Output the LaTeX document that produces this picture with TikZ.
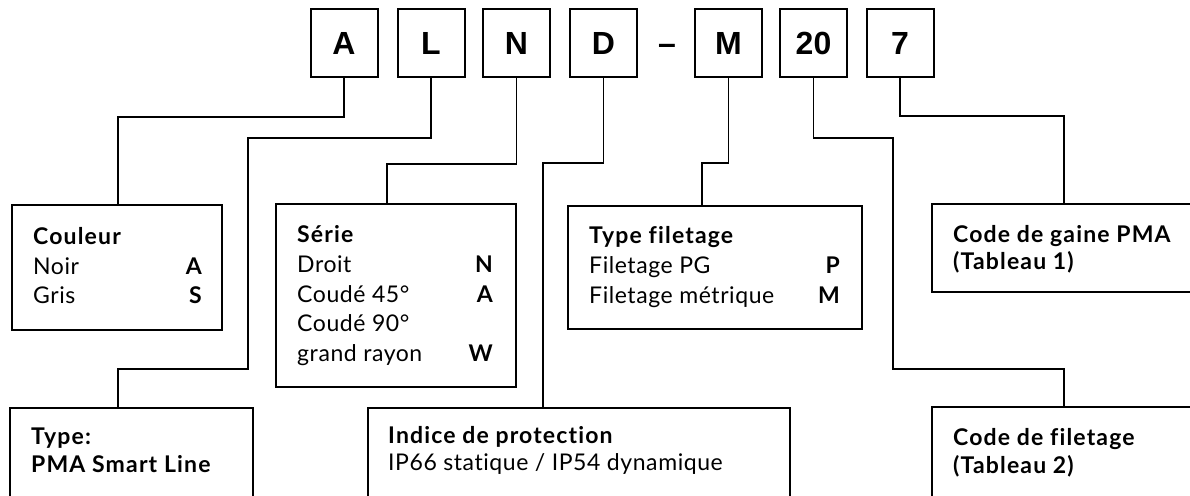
\documentclass[tikz,border=0pt]{standalone}
\usepackage{fontspec}
\setmainfont{Lato}[LetterSpace=2.5, Ligatures=NoCommon, BoldFeatures={LetterSpace=5}]
\newfontfamily\keyfont{Liberation Sans}
\begin{document}
\begin{tikzpicture}[x=1pt,y=-1pt,
  keybox/.style={draw, line width=2pt, minimum width=67pt, minimum height=68pt, inner sep=0pt, outer sep=0pt, font=\keyfont\bfseries\fontsize{32}{36}\selectfont},
  infobox/.style={draw, line width=1.3pt, inner sep=0pt, outer sep=0pt},
  conn/.style={line width=1.1pt},
  txt/.style={anchor=base west, inner sep=0pt, font=\fontsize{23}{27}\selectfont},
  ttl/.style={anchor=base west, inner sep=0pt, font=\bfseries\fontsize{23}{27}\selectfont},
  codel/.style={anchor=base east, inner sep=0pt, font=\bfseries\fontsize{23}{27}\selectfont}]
\useasboundingbox (0,0) rectangle (1190,495);
\clip (0,0) rectangle (1190,495);
\fill[white] (0,0) rectangle (1190,495);

% key boxes
\node[keybox] (kA) at (344,43) {A};
\node[keybox] (kL) at (431,43) {L};
\node[keybox] (kN) at (516.5,43) {N};
\node[keybox] (kD) at (603.5,43) {D};
\node[anchor=base, inner sep=0pt, font=\keyfont\bfseries\fontsize{32}{36}\selectfont] (dash) at (667,54.5) {–};
\node[keybox] (kM) at (728.5,43) {M};
\node[keybox] (k20) at (813.5,43) {20};
\node[keybox] (k7) at (900,43) {7};

% info boxes
\node[infobox, minimum width=210pt, minimum height=125pt] (bCouleur) at (117,267.5) {};
\node[infobox, minimum width=240pt, minimum height=183pt] (bSerie) at (396,295.5) {};
\node[infobox, minimum width=294pt, minimum height=123pt] (bFil) at (715,267.5) {};
\node[infobox, minimum width=268pt, minimum height=88pt] (bGaine) at (1066,248) {};
\node[infobox, minimum width=243pt, minimum height=102pt] (bType) at (131.5,459) {};
\node[infobox, minimum width=422pt, minimum height=102pt] (bIndice) at (579,459) {};
\node[infobox, minimum width=268pt, minimum height=103pt] (bCodeFil) at (1066,458.5) {};

% connectors
\draw[conn] (kA.south) -- ++(0,40) -| ([xshift=106pt]bCouleur.north west);
\draw[conn] (kL.south) -- ++(0,61) -| (248,369) -| ([xshift=108pt]bType.north west);
\draw[conn] (kN.south) -- ++(0,87) -| ([xshift=111pt]bSerie.north west);
\draw[conn] (kD.south) -- ++(0,86) -| ([xshift=175pt]bIndice.north west);
\draw[conn] (kM.south) -- ++(0,86) -| ([xshift=134pt]bFil.north west);
\draw[conn] (k20.south) -- ++(0,61) -| (893,369) -| ([xshift=132pt]bCodeFil.north west);
\draw[conn] (k7.south) -- ++(0,39) -| ([xshift=132pt]bGaine.north west);

% Couleur
\node[ttl] (tC0) at ([shift={(21,39)}]bCouleur.north west) {Couleur};
\node[txt] (tC1) at ([shift={(21,69)}]bCouleur.north west) {Noir};
\node[txt] (tC2) at ([shift={(21,98)}]bCouleur.north west) {Gris};
\node[codel] (cC1) at ([shift={(190,69)}]bCouleur.north west) {A};
\node[codel] (cC2) at ([shift={(190,98)}]bCouleur.north west) {S};

% Serie
\node[ttl] (tS0) at ([shift={(21,38)}]bSerie.north west) {Série};
\node[txt] (tS1) at ([shift={(21,68)}]bSerie.north west) {Droit};
\node[txt] (tS2) at ([shift={(21,98)}]bSerie.north west) {Coudé 45°};
\node[txt] (tS3) at ([shift={(21,127)}]bSerie.north west) {Coudé 90°};
\node[txt] (tS4) at ([shift={(21,157)}]bSerie.north west) {grand rayon};
\node[codel] (cS1) at ([shift={(217,68)}]bSerie.north west) {N};
\node[codel] (cS2) at ([shift={(217,98)}]bSerie.north west) {A};
\node[codel] (cS4) at ([shift={(217,157)}]bSerie.north west) {W};

% Type filetage
\node[ttl] (tF0) at ([shift={(21,37)}]bFil.north west) {Type filetage};
\node[txt] (tF1) at ([shift={(21,67)}]bFil.north west) {Filetage PG};
\node[txt] (tF2) at ([shift={(21,97)}]bFil.north west) {Filetage métrique};
\node[codel] (cF1) at ([shift={(272,67)}]bFil.north west) {P};
\node[codel] (cF2) at ([shift={(272,97)}]bFil.north west) {M};

% Code de gaine
\node[ttl] (tG0) at ([shift={(21,38)}]bGaine.north west) {Code de gaine PMA};
\node[ttl] (tG1) at ([shift={(21,65)}]bGaine.north west) {(Tableau 1)};

% Type
\node[ttl] (tT0) at ([shift={(21,36)}]bType.north west) {Type:};
\node[ttl] (tT1) at ([shift={(21,64)}]bType.north west) {PMA Smart Line};

% Indice
\node[ttl] (tI0) at ([shift={(20,35)}]bIndice.north west) {Indice de protection};
\node[txt] (tI1) at ([shift={(20,62)}]bIndice.north west) {IP66 statique / IP54 dynamique};

% Code de filetage
\node[ttl] (tK0) at ([shift={(21,38)}]bCodeFil.north west) {Code de filetage};
\node[ttl] (tK1) at ([shift={(21,66)}]bCodeFil.north west) {(Tableau 2)};
\end{tikzpicture}
\end{document}
